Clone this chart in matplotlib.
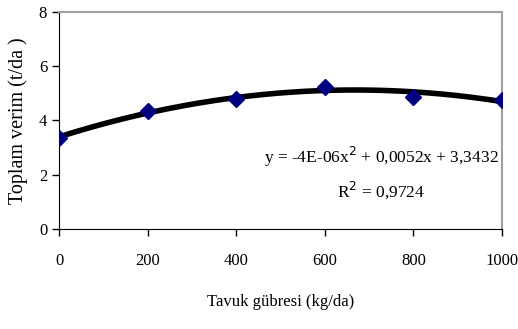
import numpy as np
from matplotlib import pyplot as plt

plt.rcParams['font.family'] = ['Liberation Serif', 'DejaVu Serif']

# data
dose = [0, 200, 400, 600, 800, 1000]
yield_t = [3.36, 4.33, 4.80, 5.23, 4.87, 4.77]
x_ticks = [0, 200, 400, 600, 800, 1000]
y_ticks = [0, 2, 4, 6, 8]
eq_text = 'y = -4E-06x$^{2}$ + 0,0052x + 3,3432'
r2_text = 'R$^{2}$ = 0,9724'


def main():
    fig = plt.figure(figsize=(5.18, 3.29), dpi=100)
    ax = fig.add_axes([0.114, 0.304, 0.855, 0.66])

    # second order trend line fitted to the points
    coef = np.polyfit(dose, yield_t, 2)
    xs = np.linspace(0, 1000, 200)
    ax.plot(xs, np.polyval(coef, xs), color='black', lw=4, zorder=2)
    ax.plot(dose, yield_t, 'D', color='#000080', ms=8.5, zorder=3)

    ax.set_xlim(0, 1000)
    ax.set_ylim(0, 8)
    ax.set_xticks(x_ticks)
    ax.set_yticks(y_ticks)
    ax.tick_params(direction='out', length=5, labelsize=12, width=1)
    ax.tick_params(axis='x', pad=12)

    for side in ['top', 'right']:
        ax.spines[side].set_color('#a0a0a0')
        ax.spines[side].set_linewidth(1.5)
    ax.spines['left'].set_color('black')
    ax.spines['bottom'].set_color('black')

    ax.text(727, 2.65, eq_text, fontsize=12.5, ha='center', va='center')
    ax.text(727, 1.45, r2_text, fontsize=12.5, ha='center', va='center')

    ax.set_xlabel('Tavuk gübresi (kg/da)', fontsize=12, labelpad=18)
    ax.set_ylabel('Toplam verim (t/da )', fontsize=14.5, labelpad=8)

    fig.savefig('out.png', dpi=100)


if __name__ == '__main__':
    main()
